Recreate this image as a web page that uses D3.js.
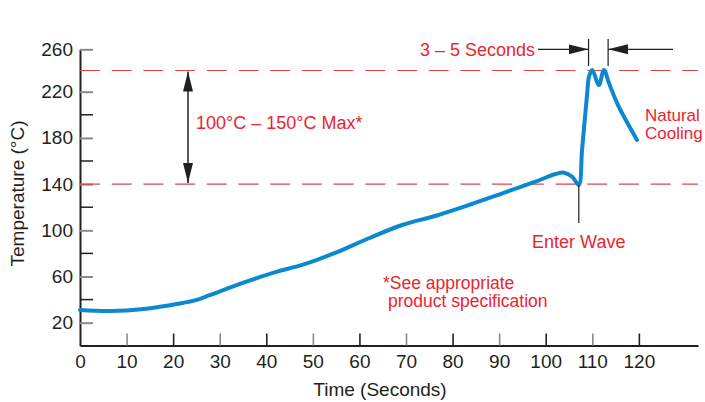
<!DOCTYPE html>
<html><head><meta charset="utf-8">
<script src="https://cdn.jsdelivr.net/npm/d3@7/dist/d3.min.js"></script>
<style>
html,body{margin:0;padding:0;background:#fff;}
text{font-family:"Liberation Sans",Arial,Helvetica,sans-serif;}
</style></head>
<body>
<svg id="c" width="705" height="402"></svg>
<script>
// ---- data ----
const timeSec = [0, 6.5, 13.7, 20.8, 25.1, 28, 35.1, 42.3, 47.7, 54.9, 62, 69.2, 76.4, 83.5, 90.7, 97.8, 102.1, 103.9, 105.7, 107.1, 107.8, 108.9, 109.3, 110, 111.4, 112.5, 113.6, 115.4, 117.2, 119.6];
const tempC   = [31, 30.1, 31.9, 36.2, 39.7, 44, 54.6, 64.2, 70, 80.6, 93.1, 104.6, 112.6, 121.9, 132, 142.1, 148.7, 149.9, 146.4, 139.2, 169.5, 218.6, 234.2, 240.5, 226.3, 240.5, 227.9, 209.5, 195.5, 178.2];
const xTicks = [0,10,20,30,40,50,60,70,80,90,100,110,120];
const yMajor = [20,60,100,140,180,220,260];
const yMinor = [40,80,120,160,200];
const limitLines = [140, 240];
const enterWaveTime = 107.1;
const dwellStart = 109.2, dwellEnd = 113.4;

const red = "#ec2430", blue = "#0b88d0", ink = "#231f20";
const svg = d3.select("#c");

const x = d3.scaleLinear().domain([0, 132.7]).range([80, 698]);
const y = d3.scaleLinear().domain([0, 220, 260]).range([345.8, 91.7, 49.3]);

// y axis
const gy = svg.append("g").attr("transform","translate(80,0)")
  .call(d3.axisLeft(y).tickValues(yMajor).tickSize(-13).tickSizeOuter(0).tickPadding(7));
gy.select(".domain").attr("stroke", ink).attr("stroke-width", 2);
gy.selectAll(".tick line").attr("stroke", "#8a8a8a").attr("stroke-width", 2);
gy.selectAll(".tick text").attr("font-size", 19).attr("fill", ink)
  .attr("font-family", '"Liberation Sans",Arial,sans-serif');
svg.append("g").selectAll("line").data(yMinor).join("line")
  .attr("x1", 80).attr("x2", 93).attr("y1", d => y(d)).attr("y2", d => y(d))
  .attr("stroke", ink).attr("stroke-width", 1.5);

// x axis
const gx = svg.append("g").attr("transform","translate(0,345.5)")
  .call(d3.axisBottom(x).tickValues(xTicks).tickSize(-12).tickSizeOuter(0).tickPadding(9));
gx.select(".domain").attr("stroke", ink).attr("stroke-width", 2);
gx.selectAll(".tick line").attr("stroke", (d,i) => i % 2 ? "#8a8a8a" : ink).attr("stroke-width", 1.6)
  .attr("display", d => d === 0 ? "none" : null);
gx.selectAll(".tick text").attr("font-size", 19).attr("fill", ink)
  .attr("font-family", '"Liberation Sans",Arial,sans-serif');

// axis titles
svg.append("text").attr("x", 380).attr("y", 396).attr("text-anchor","middle")
  .attr("font-size", 19).attr("fill", ink).text("Time (Seconds)");
svg.append("text").attr("transform","translate(24,193.5) rotate(-90)").attr("text-anchor","middle")
  .attr("font-size", 19).attr("fill", ink).text("Temperature (°C)");

// dashed limit lines
svg.append("g").selectAll("line").data(limitLines).join("line")
  .attr("x1", 80).attr("x2", 698).attr("y1", d => y(d)).attr("y2", d => y(d))
  .attr("stroke", "#e2434b").attr("stroke-width", 1.2).attr("stroke-dasharray", "20,11.7");

// defs arrowheads
const defs = svg.append("defs");
defs.append("marker").attr("id","ah").attr("viewBox","0 0 20 10").attr("refX",20).attr("refY",5)
  .attr("markerWidth",20).attr("markerHeight",10).attr("markerUnits","userSpaceOnUse").attr("orient","auto-start-reverse")
  .append("path").attr("d","M0,0 L20,5 L0,10 Z").attr("fill", ink);

// vertical double arrow
svg.append("line").attr("x1",188).attr("x2",188).attr("y1", y(240)+1).attr("y2", y(140)-1)
  .attr("stroke", ink).attr("stroke-width", 1.5)
  .attr("marker-start","url(#ah)").attr("marker-end","url(#ah)");
svg.append("text").attr("x",196).attr("y",129).attr("font-size",18).attr("fill",red).text("100°C – 150°C Max*");

// curve
const pts = timeSec.map((t,i) => [t, tempC[i]]);
svg.append("path").datum(pts)
  .attr("d", d3.line().x(d => x(d[0])).y(d => y(d[1])).curve(d3.curveCatmullRom.alpha(0.5)))
  .attr("fill","none").attr("stroke", blue).attr("stroke-width", 4).attr("stroke-linecap","round");

// dwell annotation
const xs = x(dwellStart), xe = x(dwellEnd);
svg.append("g").selectAll("line").data([xs, xe]).join("line")
  .attr("x1", d => d).attr("x2", d => d).attr("y1", 39).attr("y2", 66)
  .attr("stroke", ink).attr("stroke-width", 1.2);
svg.append("line").attr("x1", 538).attr("x2", xs).attr("y1", 49.3).attr("y2", 49.3)
  .attr("stroke", ink).attr("stroke-width", 1.2).attr("marker-end","url(#ah)");
svg.append("line").attr("x1", 673).attr("x2", xe).attr("y1", 49.3).attr("y2", 49.3)
  .attr("stroke", ink).attr("stroke-width", 1.2).attr("marker-end","url(#ah)");
svg.append("text").attr("x",535).attr("y",56).attr("text-anchor","end").attr("font-size",18).attr("fill",red).text("3 – 5 Seconds");

// enter wave
svg.append("line").attr("x1", x(enterWaveTime)).attr("x2", x(enterWaveTime)).attr("y1", y(140)+1).attr("y2", 223)
  .attr("stroke", ink).attr("stroke-width", 1.2);
svg.append("text").attr("x", x(enterWaveTime)).attr("y",248).attr("text-anchor","middle").attr("font-size",18).attr("fill",red).text("Enter Wave");

// natural cooling
svg.append("text").attr("x",645).attr("y",121).attr("font-size",17).attr("fill",red).text("Natural");
svg.append("text").attr("x",645).attr("y",139).attr("font-size",17).attr("fill",red).text("Cooling");

// footnote
svg.append("text").attr("x",383).attr("y",288.5).attr("font-size",17.5).attr("fill",red).text("*See appropriate");
svg.append("text").attr("x",388).attr("y",306.5).attr("font-size",17.5).attr("fill",red).text("product specification");
</script>
</body></html>
